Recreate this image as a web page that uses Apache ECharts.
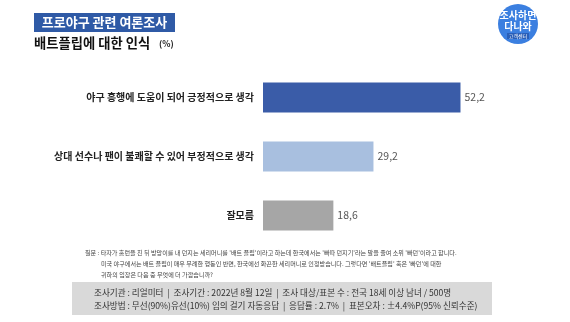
<!DOCTYPE html>
<html><head><meta charset="utf-8">
<script src="https://cdn.jsdelivr.net/npm/echarts@6/dist/echarts.min.js"></script>
<style>html,body{margin:0;padding:0;background:#fff}#c{width:570px;height:322px}</style>
</head><body><div id="c"></div>
<script>
const categories = ['야구 흥행에 도움이 되어 긍정적으로 생각','상대 선수나 팬이 불쾌할 수 있어 부정적으로 생각','잘모름'];
const values = [52.2, 29.2, 18.6];
const barColors = ['#3a5ca8','#a8bfdf','#a6a6a6'];
const titleText = '프로야구 관련 여론조사';
const subtitleText = '배트플립에 대한 인식';
const questionLines = [
 "질문 : 타자가 홈런을 친 뒤 방망이를 내 던지는 세리머니를 '배트 플립'이라고 하는데 한국에서는 '빠따 던지기'라는 말을 줄여 소위 '빠던'이라고 합니다.",
 "미국 야구에서는 배트 플립이 매우 무례한 행동인 반면, 한국에선 화끈한 세리머니로 인정받습니다. 그렇다면 '배트플립' 혹은 '빠던'에 대한",
 "귀하의 입장은 다음 중 무엇에 더 가깝습니까?"
];
const infoLines = [
 '조사기관 : 리얼미터  |  조사기간 : 2022년 8월 12일  |  조사 대상/표본 수 : 전국 18세 이상 남녀 / 500명',
 '조사방법 : 무선(90%)유선(10%) 임의 걸기 자동응답  |  응답률 : 2.7%  |  표본오차 : ±4.4%P(95% 신뢰수준)'
];
const F = '"Noto Sans CJK KR", "Noto Sans", sans-serif';
const chart = echarts.init(document.getElementById('c'));
chart.setOption({
  animation:false,
  grid:{left:263, width:227, top:68, height:177},
  xAxis:{type:'value', min:0, max:60, show:false},
  yAxis:{type:'category', data:categories, inverse:true,
    axisLine:{show:false}, axisTick:{show:false}, splitLine:{show:false},
    axisLabel:{margin:9, fontFamily:F, fontSize:10, fontWeight:'bold', color:'#222'}},
  series:[{type:'bar', barWidth:30,
    data: values.map((v,i)=>({value:v, itemStyle:{color:barColors[i]}})),
    label:{show:true, position:'right', distance:4, fontFamily:F, fontSize:10.5, color:'#555',
      formatter:p=>String(p.value).replace('.',',')}}],
  graphic:[
    {type:'rect', shape:{x:34,y:13,width:141,height:19}, style:{fill:'#2f5aa6'}},
    {type:'text', x:104.5, y:22.5, style:{text:titleText, fill:'#fff', font:'bold 13px '+F, align:'center', verticalAlign:'middle'}},
    {type:'text', x:34, y:43, style:{text:subtitleText, fill:'#111', font:'bold 13.3px '+F, verticalAlign:'middle'}},
    {type:'text', x:159, y:44, style:{text:'(%)', fill:'#222', font:'bold 8.5px '+F, verticalAlign:'middle'}},
    {type:'circle', shape:{cx:518, cy:24, r:20}, style:{fill:'#3b7fe0'}},
    {type:'text', x:518, y:15, style:{text:'조사하면', fill:'#fff', font:'bold 10px '+F, align:'center', verticalAlign:'middle'}},
    {type:'text', x:518, y:26, style:{text:'다나와', fill:'#fff', font:'bold 10px '+F, align:'center', verticalAlign:'middle'}},
    {type:'rect', shape:{x:507,y:33,width:22,height:6}, style:{fill:'#2a5fb8'}},
    {type:'text', x:518, y:36, style:{text:'고객센터', fill:'#fff', font:'5px '+F, align:'center', verticalAlign:'middle'}},
    {type:'text', x:85, y:253, style:{text:questionLines[0], fill:'#444', font:'6.1px '+F, verticalAlign:'middle'}},
    {type:'text', x:101, y:264, style:{text:questionLines[1], fill:'#444', font:'6.1px '+F, verticalAlign:'middle'}},
    {type:'text', x:101, y:275, style:{text:questionLines[2], fill:'#444', font:'6.1px '+F, verticalAlign:'middle'}},
    {type:'rect', shape:{x:72,y:282,width:420,height:33}, style:{fill:'#d9d9d9'}},
    {type:'text', x:94, y:293, style:{text:infoLines[0], fill:'#333', font:'8.6px '+F, verticalAlign:'middle'}},
    {type:'text', x:94, y:306, style:{text:infoLines[1], fill:'#333', font:'8.6px '+F, verticalAlign:'middle'}}
  ]
});
</script></body></html>
